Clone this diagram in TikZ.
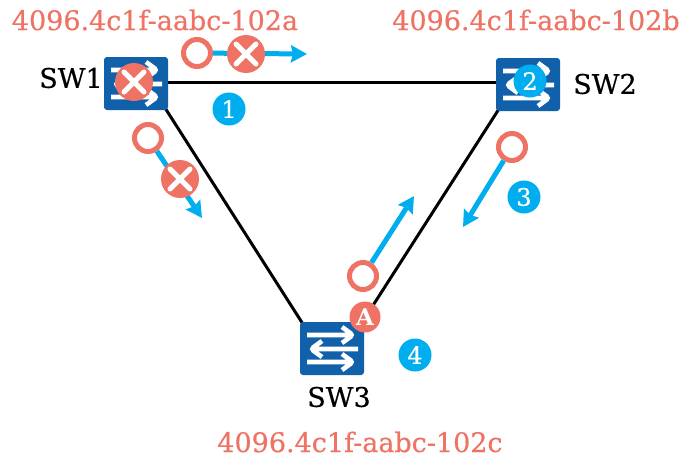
\documentclass[tikz,border=0pt]{standalone}
\usepackage{fontspec}
\setmainfont{DejaVu Serif}
\newfontfamily\heavyserif[FakeBold=0.5]{DejaVu Serif}
\usetikzlibrary{arrows.meta}
\definecolor{swblue}{HTML}{1160AA}
\definecolor{cyanb}{HTML}{00AEEF}
\definecolor{coral}{HTML}{EE7364}
\pgfdeclarelayer{back}
\pgfsetlayers{back,main}
\newcommand{\nwp}[2]{([shift={(#1,#2)}]path picture bounding box.north west)}
\newcommand{\ctp}[2]{([shift={(#1,#2)}]path picture bounding box.center)}
\tikzset{
  swbox/.style={rectangle,rounded corners=3pt,fill=swblue,minimum width=64pt,minimum height=53pt,inner sep=0pt,
    path picture={
      \draw[white,line width=4.6pt]
        \nwp{7}{13} -- \nwp{53}{13}
        \nwp{42}{5} -- \nwp{53}{13} -- \nwp{42}{21}
        \nwp{58}{27} -- \nwp{11}{27}
        \nwp{22}{19} -- \nwp{11}{27} -- \nwp{22}{35}
        \nwp{7}{40} -- \nwp{53}{40}
        \nwp{42}{32} -- \nwp{53}{40} -- \nwp{42}{48};
    }},
  link/.style={draw=black,line width=3pt},
  flow/.style={draw=cyanb,line width=5pt,-{Stealth[length=16pt,width=17pt,inset=2pt]}},
  ring/.style={circle,draw=coral,line width=5pt,fill=white,minimum size=27pt,inner sep=0pt},
  xbadge/.style={circle,fill=coral,minimum size=38pt,inner sep=0pt,
    path picture={
      \draw[white,line width=5pt,line cap=round]
        \ctp{-10}{-10} -- \ctp{10}{10}
        \ctp{-10}{10} -- \ctp{10}{-10};
    }},
  numdot/.style={circle,fill=cyanb,text=white,minimum size=33pt,inner sep=0pt,font=\heavyserif\fontsize{24}{24}\selectfont},
  lettdot/.style={circle,fill=coral,text=white,minimum size=31pt,inner sep=0pt,font=\bfseries\fontsize{23}{23}\selectfont},
  swlabel/.style={text=black,inner sep=0pt,font=\heavyserif\fontsize{27}{27}\selectfont},
  maclabel/.style={text=coral,inner sep=0pt,font=\heavyserif\fontsize{27}{27}\selectfont}
}
\begin{document}
\begin{tikzpicture}[x=1pt,y=-1pt]
\useasboundingbox (0,0) rectangle (688,467);
\node[swbox] (sw1) at (136,83.5) {};
\node[swbox] (sw2) at (528,84.5) {};
\node[swbox] (sw3) at (332,348.5) {};
\begin{pgfonlayer}{back}
\draw[link] (sw1.east |- 0,82) -- (sw2.west |- 0,82);
\draw[link] ([shift={(-3,-2)}]sw1.south east) -- ([shift={(3,2)}]sw3.north west);
\draw[link] ([shift={(3,-2)}]sw2.south west) -- ([shift={(-3,2)}]sw3.north east);
\end{pgfonlayer}
\node[swlabel] (l1) at (71,78) {SW1};
\node[swlabel] (l2) at (605,84) {SW2};
\node[swlabel] (l3) at (339,397) {SW3};
\node[maclabel] (m1) at (155,20) {4096.4c1f-aabc-102a};
\node[maclabel] (m2) at (536,20) {4096.4c1f-aabc-102b};
\node[maclabel] (m3) at (360,442) {4096.4c1f-aabc-102c};
\coordinate (t1) at (307,54);
\coordinate (t2) at (202,218);
\coordinate (t3) at (463,227);
\coordinate (t4) at (414,196);
\node[ring] (r1) at (197,53) {};
\node[ring] (r2) at (148,138) {};
\node[ring] (r3) at (512,147) {};
\node[ring] (r4) at (363,276) {};
\draw[flow] (r1) -- (t1);
\draw[flow] (r2) -- (t2);
\draw[flow] (r3) -- (t3);
\draw[flow] (r4) -- (t4);
\node[xbadge] (x1) at (246,54) {};
\node[xbadge] (x2) at (180,179) {};
\node[xbadge] (x3) at (134,82) {};
\node[numdot] (n1) at (229,109) {1};
\node[numdot] (n2) at (530,81) {2};
\node[numdot] (n3) at (524,197) {3};
\node[numdot] (n4) at (415,355) {4};
\node[lettdot] (a) at (365,317) {A};
\end{tikzpicture}
\end{document}
